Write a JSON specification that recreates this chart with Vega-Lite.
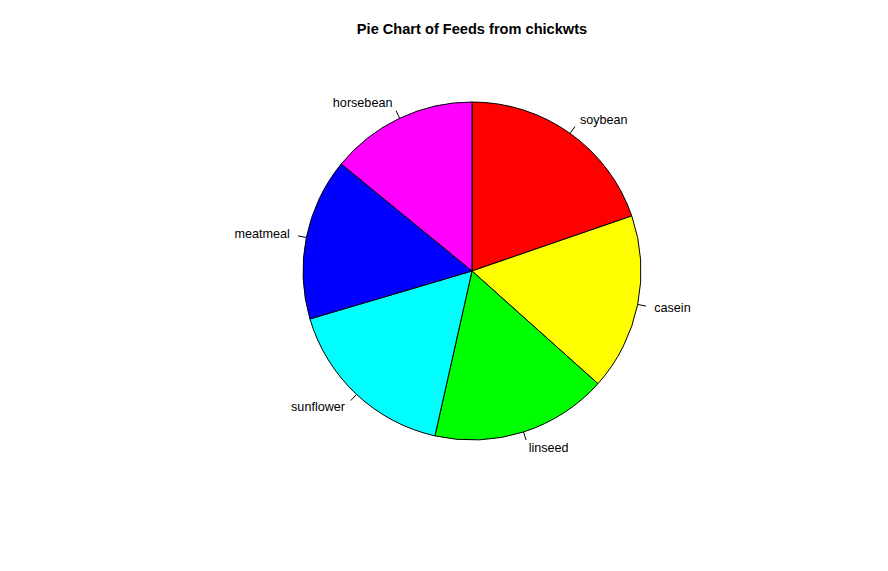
{
  "$schema": "https://vega.github.io/schema/vega-lite/v6.json",
  "width": 600,
  "height": 400,
  "autosize": "none",
  "padding": {"left": 172, "top": 71, "right": 116, "bottom": 100},
  "background": "white",
  "title": {
    "text": "Pie Chart of Feeds from chickwts",
    "font": "Liberation Sans",
    "fontSize": 14.6,
    "fontWeight": "bold",
    "color": "black",
    "anchor": "middle",
    "offset": 34
  },
  "config": {"view": {"stroke": null}},
  "data": {
    "values": [
      {"feed": "soybean", "count": 14},
      {"feed": "casein", "count": 12},
      {"feed": "linseed", "count": 12},
      {"feed": "sunflower", "count": 12},
      {"feed": "meatmeal", "count": 11},
      {"feed": "horsebean", "count": 10}
    ]
  },
  "transform": [
    {"window": [{"op": "row_number", "as": "idx"}]},
    {"joinaggregate": [{"op": "sum", "field": "count", "as": "total"}]},
    {"window": [{"op": "sum", "field": "count", "as": "cum"}], "sort": [{"field": "idx"}], "frame": [null, 0]},
    {"calculate": "2*PI*(datum.cum - datum.count/2)/datum.total", "as": "mid"},
    {"calculate": "169*sin(datum.mid)", "as": "tx1"},
    {"calculate": "177.45*sin(datum.mid)", "as": "tx2"},
    {"calculate": "169*cos(datum.mid)", "as": "ty1"},
    {"calculate": "177.45*cos(datum.mid)", "as": "ty2"},
    {"calculate": "185.9*sin(datum.mid)", "as": "lx"},
    {"calculate": "185.9*cos(datum.mid)", "as": "ly"}
  ],
  "layer": [
    {
      "mark": {"type": "arc", "outerRadius": 169, "stroke": "black", "strokeWidth": 1},
      "encoding": {
        "theta": {"field": "count", "type": "quantitative", "stack": true},
        "order": {"field": "idx", "type": "quantitative"},
        "color": {
          "field": "feed",
          "type": "nominal",
          "scale": {
            "domain": ["soybean", "casein", "linseed", "sunflower", "meatmeal", "horsebean"],
            "range": ["#FF0000", "#FFFF00", "#00FF00", "#00FFFF", "#0000FF", "#FF00FF"]
          },
          "legend": null
        }
      }
    },
    {
      "mark": {"type": "rule", "color": "black", "strokeWidth": 1},
      "encoding": {
        "x": {"field": "tx1", "type": "quantitative", "scale": {"domain": [-300, 300]}, "axis": null},
        "x2": {"field": "tx2"},
        "y": {"field": "ty1", "type": "quantitative", "scale": {"domain": [-200, 200]}, "axis": null},
        "y2": {"field": "ty2"}
      }
    },
    {
      "transform": [{"filter": "datum.lx >= 0"}],
      "mark": {"type": "text", "align": "left", "baseline": "middle", "font": "Liberation Sans", "fontSize": 12.6, "color": "black"},
      "encoding": {
        "x": {"field": "lx", "type": "quantitative", "scale": {"domain": [-300, 300]}, "axis": null},
        "y": {"field": "ly", "type": "quantitative", "scale": {"domain": [-200, 200]}, "axis": null},
        "text": {"field": "feed"}
      }
    },
    {
      "transform": [{"filter": "datum.lx < 0"}],
      "mark": {"type": "text", "align": "right", "baseline": "middle", "font": "Liberation Sans", "fontSize": 12.6, "color": "black"},
      "encoding": {
        "x": {"field": "lx", "type": "quantitative", "scale": {"domain": [-300, 300]}, "axis": null},
        "y": {"field": "ly", "type": "quantitative", "scale": {"domain": [-200, 200]}, "axis": null},
        "text": {"field": "feed"}
      }
    }
  ]
}
